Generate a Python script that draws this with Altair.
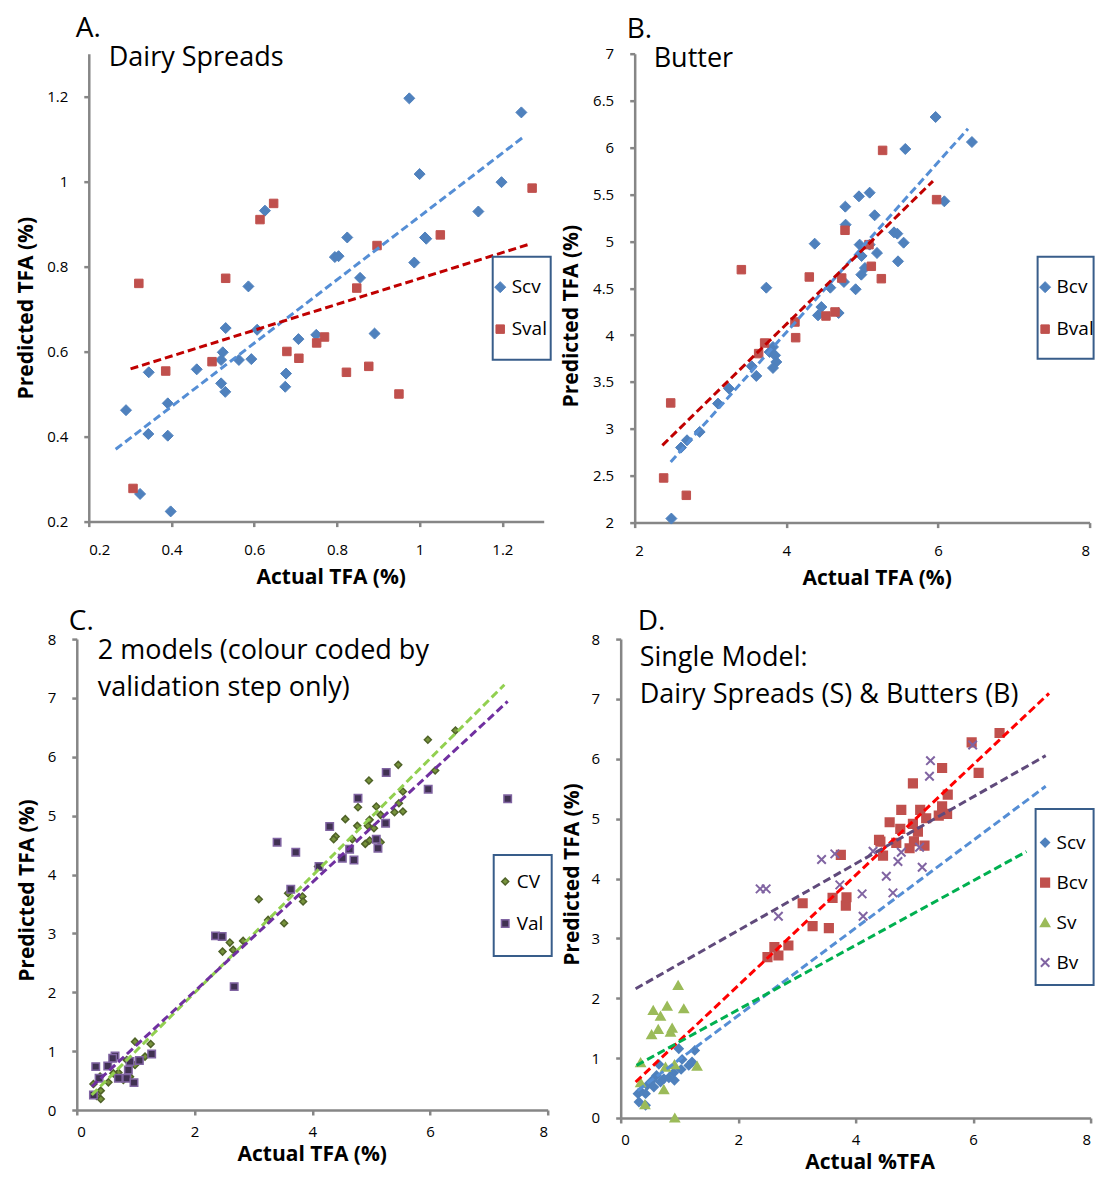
import altair as alt
import pandas as pd

FONT = "Open Sans"
AXC = "#868686"
BOXC = "#385D8A"

# ---------------- Panel A: Dairy Spreads ----------------
A_scv_x = [0.975, 1.246, 1.000, 1.198, 0.626, 1.142, 0.825, 1.013, 1.016, 0.795, 0.804, 0.987, 0.856, 0.586,
           0.531, 0.607, 0.891, 0.750, 0.707, 0.524, 0.520, 0.563, 0.593, 0.461, 0.345, 0.677, 0.520, 0.675,
           0.530, 0.290, 0.391, 0.344, 0.391, 0.324, 0.398]
A_scv_y = [1.195, 1.162, 1.017, 0.998, 0.931, 0.929, 0.868, 0.868, 0.865, 0.822, 0.824, 0.809, 0.773, 0.753,
           0.655, 0.651, 0.642, 0.639, 0.629, 0.598, 0.580, 0.580, 0.582, 0.558, 0.551, 0.548, 0.525, 0.517,
           0.505, 0.462, 0.478, 0.406, 0.402, 0.265, 0.224]
A_sval_x = [1.272, 0.647, 0.614, 1.050, 0.897, 0.531, 0.321, 0.848, 0.770, 0.751, 0.679, 0.708, 0.498, 0.386,
            0.823, 0.877, 0.950, 0.307]
A_sval_y = [0.984, 0.948, 0.910, 0.874, 0.849, 0.772, 0.760, 0.749, 0.634, 0.620, 0.600, 0.584, 0.576, 0.554,
            0.551, 0.565, 0.500, 0.278]
A_trend_scv = ([0.265, 1.248], [0.370, 1.102])
A_trend_sval = ([0.301, 1.268], [0.559, 0.853])

# ---------------- Panel B: Butter ----------------
B_bcv_x = [5.969, 6.448, 5.569, 6.084, 5.099, 4.958, 4.778, 5.165, 4.782, 5.420, 5.464, 5.547, 4.374, 4.967,
           5.099, 5.196, 4.993, 5.473, 5.037, 4.989, 4.760, 4.580, 4.914, 3.736, 4.462, 4.418, 4.690, 3.824,
           3.780, 3.851, 3.868, 3.824, 3.543, 3.604, 3.244, 3.099, 2.857, 2.690, 2.611, 2.484]
B_bcv_y = [6.325, 6.058, 5.984, 5.426, 5.518, 5.479, 5.369, 5.277, 5.177, 5.095, 5.081, 4.985, 4.974, 4.964,
           4.964, 4.875, 4.843, 4.786, 4.715, 4.644, 4.566, 4.505, 4.488, 4.505, 4.299, 4.210, 4.235, 3.873,
           3.819, 3.784, 3.713, 3.649, 3.667, 3.564, 3.429, 3.269, 2.967, 2.878, 2.800, 2.043]
B_bval_x = [5.270, 5.982, 4.774, 5.090, 3.407, 5.121, 4.303, 4.730, 5.253, 4.642, 4.523, 4.114, 4.123, 3.714,
            3.635, 2.475, 2.382, 2.681]
B_bval_y = [5.969, 5.444, 5.117, 4.964, 4.697, 4.733, 4.619, 4.608, 4.601, 4.246, 4.203, 4.139, 3.972, 3.915,
            3.802, 3.276, 2.476, 2.291]
B_trend_bcv = ([2.475, 6.396], [2.647, 6.200])
B_trend_bval = ([2.365, 5.934], [2.824, 5.642])

# ---------------- Panel C: 2 models ----------------
C_cv_x = [6.433, 5.964, 5.461, 4.963, 6.088, 4.777, 5.088, 5.540, 5.398, 5.540, 5.472, 4.562, 4.765, 4.946,
          5.048, 5.161, 4.975, 4.398, 4.364, 4.681, 4.901, 4.975, 5.161, 4.098, 3.590, 3.833, 3.844, 3.092,
          3.250, 3.522, 2.826, 2.600, 2.476, 2.657, 0.989, 1.255, 1.159, 0.989, 0.848, 0.707, 0.537, 0.396,
          0.283, 0.407, 0.407, 0.339, 0.904, 0.622, 0.791]
C_cv_y = [6.448, 6.289, 5.864, 5.598, 5.768, 5.144, 5.156, 5.411, 5.059, 5.071, 5.212, 4.941, 4.827, 4.827,
          4.788, 5.014, 4.929, 4.646, 4.601, 4.601, 4.521, 4.578, 4.550, 4.136, 3.683, 3.626, 3.541, 3.581,
          3.229, 3.173, 2.873, 2.844, 2.691, 2.720, 1.161, 1.122, 0.907, 0.765, 0.850, 0.635, 0.470, 0.567,
          0.442, 0.329, 0.187, 0.238, 0.567, 0.623, 0.510]
C_val_x = [7.320, 5.257, 5.970, 4.777, 4.296, 5.246, 5.088, 5.116, 3.403, 3.720, 4.635, 4.511, 4.709, 4.115,
           3.635, 2.357, 2.470, 2.674, 1.272, 1.063, 0.904, 0.650, 0.610, 0.526, 0.322, 0.707, 0.848, 0.972,
           0.379, 0.283, 0.876]
C_val_y = [5.286, 5.734, 5.450, 5.297, 4.816, 4.873, 4.601, 4.448, 4.550, 4.380, 4.431, 4.278, 4.249, 4.136,
           3.751, 2.958, 2.946, 2.096, 0.952, 0.839, 0.822, 0.918, 0.878, 0.748, 0.737, 0.538, 0.538, 0.465,
           0.538, 0.255, 0.680]
C_trend_cv = ([0.254, 7.264], [0.255, 7.224])
C_trend_val = ([0.254, 7.320], [0.397, 6.941])

# ---------------- Panel D: Single model ----------------
D_scv_x = [0.989, 1.261, 1.046, 1.215, 1.159, 1.029, 0.904, 0.915, 0.650, 0.610, 0.735, 0.537, 0.452, 0.339,
           0.424, 0.294, 0.311, 0.424, 0.565, 0.820, 0.678]
D_scv_y = [1.157, 1.129, 0.979, 0.935, 0.879, 0.812, 0.757, 0.629, 0.896, 0.712, 0.656, 0.629, 0.545, 0.445,
           0.406, 0.406, 0.267, 0.211, 0.517, 0.673, 0.601]
D_bcv_x = [6.450, 5.975, 5.472, 6.094, 4.975, 5.568, 4.777, 5.099, 5.472, 5.201, 5.557, 5.415, 4.579, 4.975,
           4.760, 5.060, 4.398, 4.421, 4.692, 4.992, 5.172, 4.918, 4.466, 3.748, 3.607, 3.844, 3.833, 3.098,
           3.267, 3.544, 2.855, 2.617, 2.499, 2.685]
D_bcv_y = [6.431, 6.275, 5.847, 5.764, 5.591, 5.402, 5.146, 5.146, 5.207, 5.007, 5.079, 5.052, 4.940, 4.912,
           4.829, 4.784, 4.645, 4.618, 4.595, 4.623, 4.551, 4.506, 4.384, 4.395, 3.677, 3.688, 3.549, 3.588,
           3.204, 3.171, 2.882, 2.854, 2.687, 2.715]
D_sv_x = [0.978, 0.554, 0.791, 1.074, 0.678, 0.639, 0.876, 0.526, 0.848, 0.339, 0.763, 0.916, 1.300, 0.339,
          0.735, 0.413, 0.921]
D_sv_y = [2.214, 1.797, 1.869, 1.825, 1.702, 1.480, 1.502, 1.391, 1.435, 0.924, 0.851, 0.890, 0.868, 0.590,
          0.473, 0.223, 0.000]
D_bv_x = [5.992, 5.274, 5.257, 4.296, 3.646, 3.420, 5.088, 4.777, 4.720, 4.522, 5.133, 3.731, 2.374, 2.476,
          4.110, 4.635, 2.685, 4.127]
D_bv_y = [6.231, 5.969, 5.708, 4.456, 4.412, 4.317, 4.523, 4.439, 4.284, 4.039, 4.189, 3.894, 3.828, 3.828,
          3.744, 3.761, 3.371, 3.371]
D_trend_bcv = ([0.254, 7.292], [0.601, 7.093])
D_trend_bv = ([0.254, 7.236], [2.159, 6.053])
D_trend_scv = ([0.290, 7.236], [0.460, 5.541])
D_trend_sv = ([0.271, 6.908], [0.879, 4.451])

X_MARK = "M-1,-1L1,1M1,-1L-1,1"
ONE = pd.DataFrame({"k": [0]})


def make_points(series):
    rows = []
    for name, xs, ys in series:
        for x, y in zip(xs, ys):
            rows.append({"Series": name, "x": x, "y": y})
    return pd.DataFrame(rows)


def make_panel(series, styles, trends, xdom, ydom, xticks, yticks, w, h, xtitle,
               xtitle_x, ytitle_x, ytitle_y, x_pads, letter, letter_xy, text_lines, text_xy,
               leg_xy, leg_offset, row_pad, box, stroke_w, right_edge=None):
    names = [s[0] for s in series]
    pts = make_points(series)
    xsc = alt.Scale(domain=xdom, nice=False, zero=False)
    ysc = alt.Scale(domain=ydom, nice=False, zero=False)
    xaxis = alt.Axis(values=xticks, format="~g", title=xtitle, titleX=xtitle_x,
                     labelPadding=x_pads[0], titlePadding=x_pads[1])
    yaxis = alt.Axis(values=yticks, format="~g", title="Predicted TFA (%)", titleX=ytitle_x, titleY=ytitle_y)
    legend = alt.Legend(orient="none", legendX=leg_xy[0], legendY=leg_xy[1], title=None,
                        labelFont=FONT, labelFontSize=19, labelColor="black", padding=0,
                        rowPadding=row_pad, labelOffset=leg_offset, symbolSize=90,
                        symbolStrokeWidth=stroke_w, strokeColor="transparent")
    points = alt.Chart(pts).mark_point(filled=True, opacity=1, strokeWidth=stroke_w).encode(
        x=alt.X("x:Q", scale=xsc, axis=xaxis),
        y=alt.Y("y:Q", scale=ysc, axis=yaxis),
        color=alt.Color("Series:N", scale=alt.Scale(domain=names, range=[s["fill"] for s in styles]),
                        legend=legend, sort=names),
        stroke=alt.Stroke("Series:N", scale=alt.Scale(domain=names, range=[s["stroke"] for s in styles]),
                          legend=legend, sort=names),
        shape=alt.Shape("Series:N", scale=alt.Scale(domain=names, range=[s["shape"] for s in styles]),
                        legend=legend, sort=names),
        size=alt.Size("Series:N", scale=alt.Scale(domain=names, range=[s["size"] for s in styles]),
                      legend=None),
    )
    layers = [points]
    for (txs, tys), col in trends:
        tdf = pd.DataFrame({"x": txs, "y": tys})
        layers.append(alt.Chart(tdf).mark_line(color=col, strokeWidth=3, strokeDash=[8, 4]).encode(
            x=alt.X("x:Q", scale=xsc), y=alt.Y("y:Q", scale=ysc)))
    layers.append(alt.Chart(ONE).mark_text(align="left", baseline="top", font=FONT, fontSize=28,
                                           color="black").encode(
        x=alt.value(letter_xy[0]), y=alt.value(letter_xy[1]), text=alt.value(letter)))
    layers.append(alt.Chart(ONE).mark_text(align="left", baseline="alphabetic", font=FONT, fontSize=27,
                                           lineHeight=37, color="black").encode(
        x=alt.value(text_xy[0]), y=alt.value(text_xy[1]), text=alt.value(text_lines)))
    layers.append(alt.Chart(ONE).mark_rect(fill="transparent", stroke=BOXC, strokeWidth=2).encode(
        x=alt.value(box[0]), x2=alt.value(box[1]), y=alt.value(box[2]), y2=alt.value(box[3])))
    if right_edge is not None:
        # invisible marker that fixes the right-hand extent of the figure (cropped by padding)
        layers.append(alt.Chart(ONE).mark_rect(opacity=0).encode(
            x=alt.value(right_edge - 2), x2=alt.value(right_edge), y=alt.value(0), y2=alt.value(1)))
    return alt.layer(*layers).properties(width=w, height=h)


BLUE, RED = "#4F81BD", "#C0504D"
TOP_PADS = (16, 8.5)
BOTTOM_PADS = (10, 4)

panel_a = make_panel(
    [("Scv", A_scv_x, A_scv_y), ("Sval", A_sval_x, A_sval_y)],
    [dict(fill=BLUE, stroke=BLUE, shape="diamond", size=121),
     dict(fill=RED, stroke=RED, shape="square", size=72)],
    [(A_trend_scv, "#558ED5"), (A_trend_sval, "#C00000")],
    [0.2, 1.3], [0.2, 1.3], [0.2, 0.4, 0.6, 0.8, 1.0, 1.2], [0.2, 0.4, 0.6, 0.8, 1.0, 1.2],
    455, 468, "Actual TFA (%)", 242, -52, 254, TOP_PADS, "A.", (-13, -38.4), ["Dairy Spreads"], (20, 12.5),
    (402, 224), 2, 22, (404, 462, 203, 306), 1)

panel_b = make_panel(
    [("Bcv", B_bcv_x, B_bcv_y), ("Bval", B_bval_x, B_bval_y)],
    [dict(fill=BLUE, stroke=BLUE, shape="diamond", size=121),
     dict(fill=RED, stroke=RED, shape="square", size=72)],
    [(B_trend_bcv, "#558ED5"), (B_trend_bval, "#C00000")],
    [2, 8], [2, 7], [2, 4, 6, 8], [2, 2.5, 3, 3.5, 4, 4.5, 5, 5.5, 6, 6.5, 7],
    455, 469, "Actual TFA (%)", 242, -53, 262, TOP_PADS, "B.", (-8, -38), ["Butter"], (19, 13.5),
    (401, 224), 2, 22, (403, 459, 203, 305), 1, right_edge=490)

panel_c = make_panel(
    [("CV", C_cv_x, C_cv_y), ("Val", C_val_x, C_val_y)],
    [dict(fill="#77933C", stroke="#4F6228", shape="diamond", size=49),
     dict(fill="#403152", stroke="#8064A2", shape="square", size=56)],
    [(C_trend_cv, "#92D050"), (C_trend_val, "#7030A0")],
    [0, 8], [0, 8], [0, 2, 4, 6, 8], [0, 1, 2, 3, 4, 5, 6, 7, 8],
    471, 471, "Actual TFA (%)", 235, -39, 251, BOTTOM_PADS, "C.", (-8, -31.5),
    ["2 models (colour coded by", "validation step only)"],
    (21, 20), (419, 233), 2, 22, (417, 475, 216, 317), 1.5)

panel_d = make_panel(
    [("Scv", D_scv_x, D_scv_y), ("Bcv", D_bcv_x, D_bcv_y), ("Sv", D_sv_x, D_sv_y), ("Bv", D_bv_x, D_bv_y)],
    [dict(fill=BLUE, stroke=BLUE, shape="diamond", size=64),
     dict(fill=RED, stroke=RED, shape="square", size=72),
     dict(fill="#9BBB59", stroke="#9BBB59", shape="triangle-up", size=81),
     dict(fill="#8064A2", stroke="#8064A2", shape=X_MARK, size=64)],
    [(D_trend_bcv, "#FF0000"), (D_trend_bv, "#604A7B"), (D_trend_scv, "#558ED5"), (D_trend_sv, "#00B050")],
    [0, 8], [0, 8], [0, 2, 4, 6, 8], [0, 1, 2, 3, 4, 5, 6, 7, 8],
    470, 479, "Actual %TFA", 249, -38, 235, BOTTOM_PADS, "D.", (17, -31.5),
    ["Single Model:", "Dairy Spreads (S) & Butters (B)"],
    (19, 26.5), (415, 194), 2, 20, (415, 473, 170, 346), 2)

RES = dict(color="independent", shape="independent", stroke="independent", size="independent")

# small blank view that shifts the top row slightly to the right of the bottom row
spacer = alt.Chart(ONE).mark_point(opacity=0).encode(
    x=alt.value(0), y=alt.value(0)).properties(width=11.6, height=10)

top_pair = alt.hconcat(panel_a, panel_b, spacing=91, bounds="flush").resolve_scale(**RES)
row1 = alt.hconcat(spacer, top_pair, spacing=0, bounds="flush").resolve_scale(**RES)
row2 = alt.hconcat(panel_c, panel_d, spacing=73, bounds="flush").resolve_scale(**RES)

chart = alt.vconcat(row1, row2, spacing=18.5).resolve_scale(**RES).properties(
    padding={"left": 6.8, "top": 6.6, "right": -28.6, "bottom": 3}
).configure_view(stroke="transparent").configure_axis(
    labelFont=FONT, labelFontSize=15, labelColor="black",
    titleFont=FONT, titleFontSize=21, titleFontWeight="bold", titleColor="black",
    domainColor=AXC, domainWidth=2.5, tickColor=AXC, tickWidth=2.5, tickSize=5, grid=False,
).configure_axisY(labelPadding=16)

chart.save("out.html", embed_options={"renderer": "svg", "actions": False})
